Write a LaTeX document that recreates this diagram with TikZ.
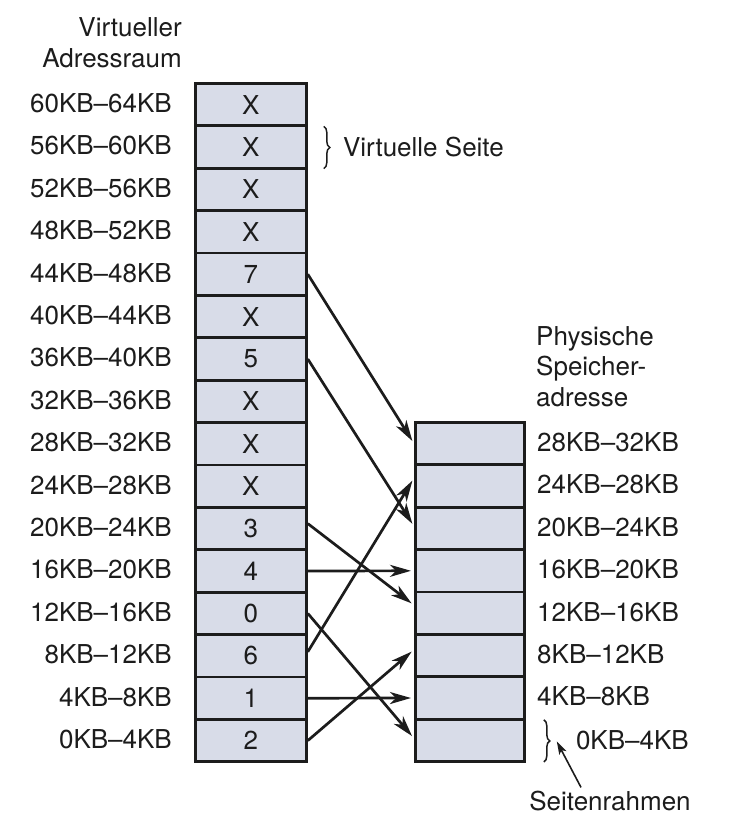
\documentclass[tikz,border=0pt]{standalone}
\usepackage{fontspec}
\setmainfont{TeX Gyre Heros}
\usetikzlibrary{arrows.meta,decorations.pathreplacing,calc}
\definecolor{boxfill}{RGB}{216,220,232}
\definecolor{ink}{RGB}{28,28,28}
\begin{document}
\begin{tikzpicture}[x=1pt,y=-1pt,
  txt/.style={font=\fontsize{26}{30.5}\selectfont,inner sep=0pt,text=ink},
  cell/.style={txt,draw=ink,fill=boxfill,line width=2.8pt,minimum width=111pt,minimum height=42.4pt,anchor=north west},
  map/.style={-{Stealth[length=21pt,width=12pt,inset=6pt]},line width=2.7pt,draw=ink,shorten >=3pt},
  bracedeco/.style={decorate,decoration={brace,amplitude=6pt},line width=1.5pt,draw=ink},
  pointer/.style={-{Stealth[length=13pt,width=8pt,inset=3pt]},line width=1.6pt,draw=ink}
]
\useasboundingbox (0,0) rectangle (738,819);
% virtual pages
\foreach \c [count=\r from 0] in {X,X,X,X,7,X,5,X,X,X,3,4,0,6,1,2}{
  \pgfmathtruncatemacro{\lo}{(15-\r)*4}
  \pgfmathtruncatemacro{\hi}{(16-\r)*4}
  \node[cell] (v\r) at (194,{82+42.4*\r}) {\c};
  \node[txt,anchor=east] (vl\r) at (172,{82+42.4*(\r+0.5)}) {\lo KB–\hi KB};
}
% physical frames
\foreach \k in {0,...,7}{
  \pgfmathtruncatemacro{\n}{7-\k}
  \pgfmathtruncatemacro{\lo}{\n*4}
  \pgfmathtruncatemacro{\hi}{(\n+1)*4}
  \node[cell,minimum width=109pt] (f\n) at (414,{421+42.4*\k}) {};
  \ifnum\n>0
    \node[txt,anchor=west] (fl\n) at (537,{421+42.4*(\k+0.5)}) {\lo KB–\hi KB};
  \fi
}
% titles
\node[txt,align=right,anchor=south east] (vtitle) at (182,68) {Virtueller\\Adressraum};
\node[txt,align=left,anchor=south west] (ptitle) at (536,407) {Physische\\Speicher-\\adresse};
% mappings
\draw[map] (v4.east) -- (f7.west);
\draw[map] (v6.east) -- ($(f5.west)+(0,-2)$);
\draw[map] ($(v10.east)+(0,-5)$) -- ($(f3.west)+(0,-8)$);
\draw[map] (v11.east) -- (f4.west);
\draw[map] (v12.east) -- ($(f0.west)+(0,-2)$);
\draw[map] ($(v13.east)+(0,-4)$) -- ($(f6.west)+(0,-8)$);
\draw[map] (v14.east) -- (f1.west);
\draw[map] (v15.east) -- ($(f2.west)+(0,-6)$);
% Virtuelle Seite brace
\coordinate (vb1) at ($(v1.north east)+(16,2)$);
\coordinate (vb2) at ($(v1.south east)+(16,-1)$);
\draw[bracedeco] (vb1) -- (vb2);
\node[txt,anchor=west] (vs) at ($(v1.east)+(35,0)$) {Virtuelle Seite};
% Seitenrahmen brace
\coordinate (fb1) at ($(f0.north east)+(18,2)$);
\coordinate (fb2) at ($(f0.south east)+(18,-1)$);
\draw[bracedeco] (fb1) -- (fb2);
\coordinate (fbtip) at ($(f0.east)+(31,1)$);
\node[txt,anchor=west] (fl0) at ($(f0.east)+(50,0)$) {0KB–4KB};
\node[txt,anchor=base] (sr) at (610,810) {Seitenrahmen};
\coordinate (srtail) at ($(sr.north)+(-29,-3)$);
\draw[pointer] (srtail) -- (fbtip);
\end{tikzpicture}
\end{document}
